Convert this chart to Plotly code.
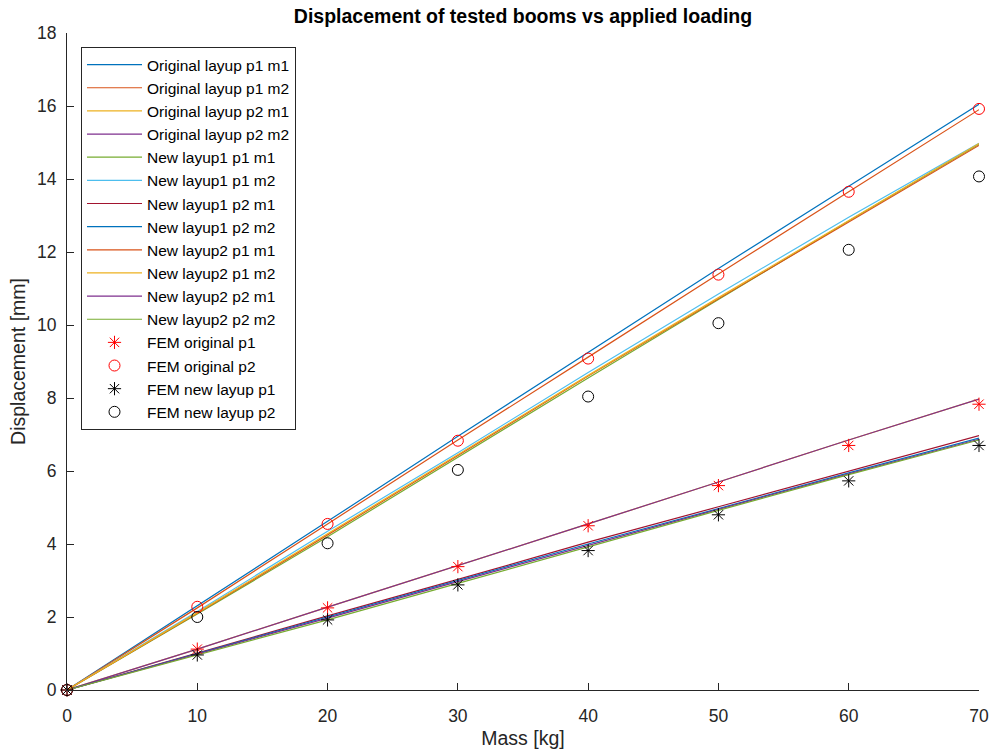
import plotly.graph_objects as go

mass = [0, 10, 20, 30, 40, 50, 60, 70]

line_names = [
    "Original layup p1 m1", "Original layup p1 m2",
    "Original layup p2 m1", "Original layup p2 m2",
    "New layup1 p1 m1", "New layup1 p1 m2",
    "New layup1 p2 m1", "New layup1 p2 m2",
    "New layup2 p1 m1", "New layup2 p1 m2",
    "New layup2 p2 m1", "New layup2 p2 m2",
]
line_values = [
    [0, 2.30, 4.62, 6.95, 9.25, 11.55, 13.80, 16.05],
    [0, 2.25, 4.55, 6.85, 9.12, 11.40, 13.65, 15.90],
    [0, 1.12, 2.27, 3.40, 4.55, 5.70, 6.85, 7.97],
    [0, 1.12, 2.27, 3.40, 4.55, 5.70, 6.85, 7.97],
    [0, 2.08, 4.20, 6.38, 8.55, 10.70, 12.85, 14.95],
    [0, 2.15, 4.35, 6.50, 8.70, 10.85, 12.95, 14.98],
    [0, 1.02, 2.03, 3.03, 4.05, 5.02, 6.00, 6.97],
    [0, 1.00, 2.00, 3.00, 4.00, 4.97, 5.95, 6.90],
    [0, 2.10, 4.25, 6.42, 8.60, 10.72, 12.82, 14.92],
    [0, 2.12, 4.28, 6.45, 8.62, 10.75, 12.85, 14.97],
    [0, 0.98, 1.97, 2.97, 3.97, 4.95, 5.92, 6.87],
    [0, 0.95, 1.92, 2.92, 3.93, 4.92, 5.90, 6.85],
]
line_colors = ["#0072BD", "#D95319", "#EDB120", "#7E2F8E", "#77AC30", "#4DBEEE",
               "#A2142F", "#0072BD", "#D95319", "#EDB120", "#7E2F8E", "#77AC30"]

fem_names = ["FEM original p1", "FEM original p2", "FEM new layup p1", "FEM new layup p2"]
fem_values = [
    [0, 1.12, 2.25, 3.38, 4.50, 5.60, 6.70, 7.83],
    [0, 2.28, 4.55, 6.83, 9.08, 11.38, 13.65, 15.92],
    [0, 0.96, 1.92, 2.88, 3.82, 4.80, 5.73, 6.70],
    [0, 2.00, 4.02, 6.03, 8.04, 10.05, 12.06, 14.07],
]
fem_colors = ["#FF0000", "#FF0000", "#000000", "#000000"]
fem_symbols = ["asterisk-open", "circle-open", "asterisk-open", "circle-open"]

fig = go.Figure()
for name, vals, col in zip(line_names, line_values, line_colors):
    fig.add_trace(go.Scatter(x=mass, y=vals, mode="lines", name=name,
                             line=dict(color=col, width=1.2), cliponaxis=False))
for name, vals, col, sym in zip(fem_names, fem_values, fem_colors, fem_symbols):
    fig.add_trace(go.Scatter(x=mass, y=vals, mode="markers", name=name,
                             marker=dict(symbol=sym, size=11, color=col,
                                         line=dict(color=col, width=1)),
                             cliponaxis=False))

axis_col = "#262626"
fig.update_layout(
    width=991, height=753,
    margin=dict(l=67, r=12, t=33, b=63),
    paper_bgcolor="white", plot_bgcolor="white",
    font=dict(family="Liberation Sans, Arial, sans-serif", size=17.5, color=axis_col),
    title=dict(text="<b>Displacement of tested booms vs applied loading</b>",
               x=(67 + 979) / 2 / 991, xanchor="center", y=1 - 16 / 753, yanchor="middle",
               font=dict(size=19.5, color="#000000")),
    xaxis=dict(range=[0, 70], tickvals=[0, 10, 20, 30, 40, 50, 60, 70],
               showgrid=False, zeroline=False, showline=True, linecolor=axis_col,
               linewidth=1, ticks="inside", ticklen=7, tickcolor=axis_col,
               ticklabelstandoff=10, automargin=False,
               title=dict(text="Mass [kg]", font=dict(size=19.5), standoff=6)),
    yaxis=dict(range=[0, 18], tickvals=list(range(0, 19, 2)),
               showgrid=False, zeroline=False, showline=True, linecolor=axis_col,
               linewidth=1, ticks="inside", ticklen=7, tickcolor=axis_col,
               ticklabelstandoff=6, automargin=False,
               title=dict(text="Displacement [mm]", font=dict(size=19.5), standoff=6)),
    legend=dict(x=(81 - 67) / 912, y=(690 - 47) / 657, xanchor="left", yanchor="top",
                bgcolor="white", bordercolor=axis_col, borderwidth=1,
                font=dict(size=15.5, color="#000000"), itemwidth=55,
                tracegroupgap=0),
    showlegend=True,
)

fig.write_html("out.html")
